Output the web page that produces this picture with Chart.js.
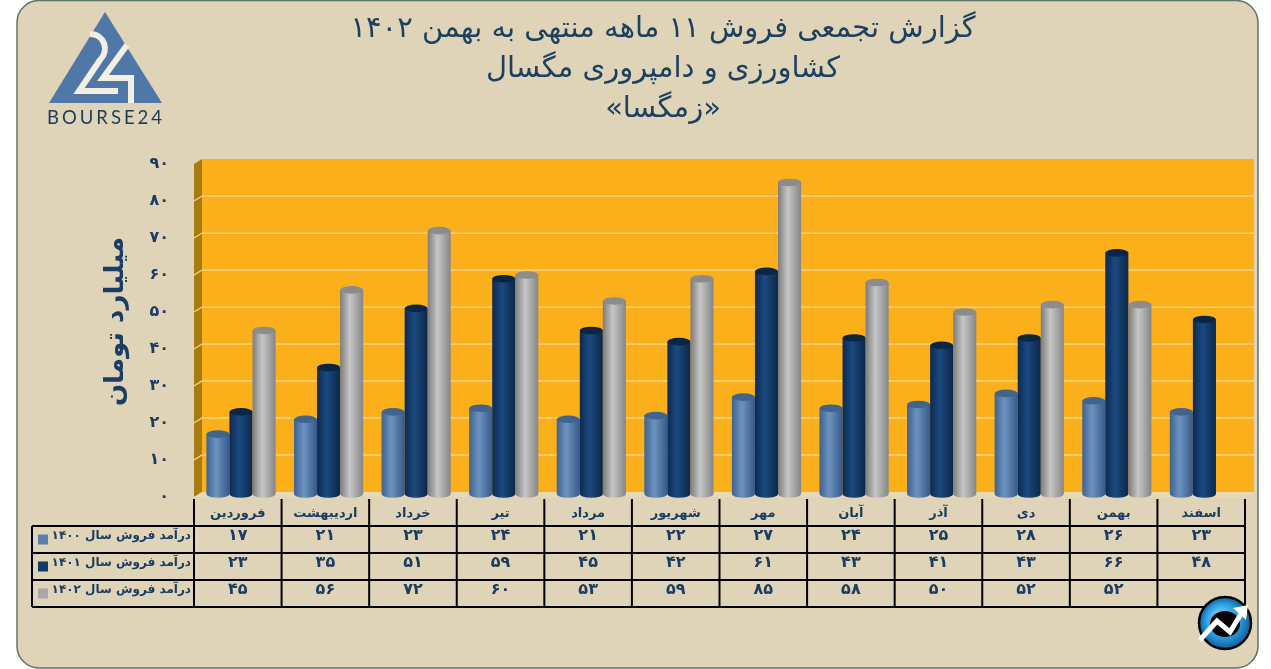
<!DOCTYPE html>
<html lang="fa">
<head>
<meta charset="utf-8">
<script src="https://cdn.jsdelivr.net/npm/chart.js@4"></script>
<style>
html,body{margin:0;padding:0;background:#fff;overflow:hidden}
#wrap{position:relative;width:1271px;height:669px}
</style>
</head>
<body>
<div id="wrap"><canvas id="c" width="1271" height="669"></canvas></div>
<script>
const months = ["فروردین","اردیبهشت","خرداد","تیر","مرداد","شهریور","مهر","آبان","آذر","دی","بهمن","اسفند"];
const sales1400 = [17,21,23,24,21,22,27,24,25,28,26,23];
const sales1401 = [23,35,51,59,45,42,61,43,41,43,66,48];
const sales1402 = [45,56,72,60,53,59,85,58,50,52,52,null];
const seriesNames = ["درآمد فروش سال ۱۴۰۰","درآمد فروش سال ۱۴۰۱","درآمد فروش سال ۱۴۰۲"];
const titleLines = ["گزارش تجمعی فروش ۱۱ ماهه منتهی به بهمن ۱۴۰۲","کشاورزی و دامپروری مگسال","«زمگسا»"];
const yAxisTitle = "\u00A0\u00A0میلیارد تومان";
const logoText = "BOURSE24";

const NAVY = "#1c3d63";
const BOLD = "'DejaVu Sans'";
const toFa = n => n === null || n === undefined ? "" : String(n).replace(/\d/g, d => "۰۱۲۳۴۵۶۷۸۹"[d]);

const looks = [
  {base:"#4f77a8", top:"#41648f", stops:["#3f628f","#6c93bf","#38598a"], swatch:"#5b7fa8"},
  {base:"#123a68", top:"#0b2544", stops:["#0c2a50","#1b4a80","#0b2748"], swatch:"#133a68"},
  {base:"#a6a6a6", top:"#8c8c8c", stops:["#7c7c7c","#c6c6c6","#868686"], swatch:"#a8a8a8"}
];

function roundRect(ctx,x,y,w,h,r){ctx.beginPath();ctx.roundRect(x,y,w,h,r);}

const scenePlugin = {
  id:"scene",
  beforeDraw(chart){
    const {ctx,chartArea:a,scales:{y}} = chart;
    const dx=8, dy=5;
    ctx.save();
    ctx.fillStyle="#ffffff";ctx.fillRect(0,0,chart.width,chart.height);
    roundRect(ctx,17,0.5,1241,667.5,22);
    ctx.fillStyle="#dfd3b8";ctx.fill();
    ctx.strokeStyle="#5d756c";ctx.lineWidth=1.5;ctx.stroke();
    const b=a.bottom,t=y.getPixelForValue(90);
    // back wall
    ctx.fillStyle="#fbb01b";
    ctx.fillRect(a.left+dx,t-dy,a.right+1-a.left,b-t);
    // side wall
    ctx.fillStyle="#a97a10";
    ctx.beginPath();ctx.moveTo(a.left,t);ctx.lineTo(a.left+dx,t-dy);ctx.lineTo(a.left+dx,b-dy);ctx.lineTo(a.left,b);ctx.closePath();ctx.fill();
    // floor
    ctx.fillStyle="#e6d9b6";
    ctx.beginPath();ctx.moveTo(a.left,b);ctx.lineTo(a.left+dx,b-dy);ctx.lineTo(a.right+dx+1,b-dy);ctx.lineTo(a.right,b);ctx.closePath();ctx.fill();
    // gridlines on the walls
    ctx.strokeStyle="#f7d688";ctx.lineWidth=1.3;
    y.ticks.forEach(tk=>{
      if(tk.value===0||tk.value===90) return;
      const p=y.getPixelForValue(tk.value);
      ctx.beginPath();ctx.moveTo(a.left,p);ctx.lineTo(a.left+dx,p-dy);ctx.lineTo(a.right+dx+1,p-dy);ctx.stroke();
    });
    ctx.restore();
  },
  beforeDatasetDraw(){return false;},
  afterDatasetsDraw(chart){
    const ctx=chart.ctx;
    const shift=3.2, ry=3.8;
    chart.data.datasets.forEach((ds,i)=>{
      const look=looks[i];
      chart.getDatasetMeta(i).data.forEach((el,j)=>{
        if(ds.data[j]===null) return;
        const w=el.width, l=el.x-w/2+shift, r=l+w, cx=(l+r)/2;
        const top=el.y, bot=el.base-3;
        const g=ctx.createLinearGradient(l,0,r,0);
        g.addColorStop(0,look.stops[0]);g.addColorStop(0.42,look.stops[1]);g.addColorStop(1,look.stops[2]);
        ctx.save();
        ctx.fillStyle=g;
        ctx.beginPath();
        ctx.moveTo(l,top);ctx.lineTo(l,bot);
        ctx.ellipse(cx,bot,w/2,ry,0,Math.PI,0,true);
        ctx.lineTo(r,top);
        ctx.closePath();ctx.fill();
        ctx.fillStyle=look.top;
        ctx.beginPath();ctx.ellipse(cx,top,w/2,ry,0,0,Math.PI*2);ctx.fill();
        ctx.restore();
      });
    });
  },
  afterDraw(chart){
    const {ctx,chartArea:a,scales:{x}} = chart;
    ctx.save();
    const step=x.getPixelForValue(1)-x.getPixelForValue(0);
    const rowTop=a.bottom+29, rowH=27, tableLeft=32;
    const edges=months.map((m,i)=>x.getPixelForValue(i)-step/2);
    edges.push(a.right);
    ctx.strokeStyle="#000";ctx.lineWidth=2;
    // row rules
    for(let r=0;r<=3;r++){
      const yy=rowTop+r*rowH;
      ctx.beginPath();ctx.moveTo(tableLeft,yy);ctx.lineTo(a.right,yy);ctx.stroke();
    }
    // column rules
    edges.forEach(e=>{ctx.beginPath();ctx.moveTo(e,a.bottom+2);ctx.lineTo(e,rowTop+3*rowH);ctx.stroke();});
    ctx.beginPath();ctx.moveTo(tableLeft,rowTop);ctx.lineTo(tableLeft,rowTop+3*rowH);ctx.stroke();
    // cells
    const rows=[sales1400,sales1401,sales1402];
    ctx.textBaseline="middle";ctx.textAlign="center";
    rows.forEach((vals,r)=>{
      const cy=rowTop+r*rowH+rowH/2-3;
      ctx.fillStyle=NAVY;ctx.font="bold 16px "+BOLD;
      vals.forEach((v,i)=>ctx.fillText(toFa(v),edges[i]+step/2,cy-1));
      ctx.font="bold 12px "+BOLD;ctx.textAlign="right";ctx.direction="rtl";
      ctx.fillText(seriesNames[r],a.left-3,cy-0.5);
      ctx.direction="ltr";ctx.textAlign="center";
      ctx.fillStyle=looks[r].swatch;
      ctx.fillRect(tableLeft+6,cy+3-5,10,10);
    });
    // logo
    ctx.fillStyle="#4f78a8";
    ctx.beginPath();ctx.moveTo(105,12);ctx.lineTo(162,103);ctx.lineTo(49,103);ctx.closePath();ctx.fill();
    ctx.strokeStyle="#f3efe3";ctx.lineWidth=6;ctx.lineJoin="miter";
    ctx.beginPath();ctx.moveTo(90,34);ctx.bezierCurveTo(104,34,110,50,100,60);ctx.lineTo(79,91);ctx.lineTo(118,91);ctx.stroke();
    ctx.beginPath();ctx.moveTo(127,45);ctx.lineTo(103,78);ctx.lineTo(131,78);ctx.lineTo(131,103);ctx.stroke();
    ctx.fillStyle="#1f3c57";ctx.font="18.5px 'Lato'";ctx.textAlign="center";ctx.textBaseline="middle";
    ctx.letterSpacing="3px";ctx.fillText(logoText,106,118);ctx.letterSpacing="0px";
    // corner badge
    const bx=1225,by=623,br=26;
    const rg=ctx.createRadialGradient(bx-6,by-6,3,bx,by,br);
    rg.addColorStop(0,"#7fd0f5");rg.addColorStop(0.6,"#2a9fe0");rg.addColorStop(1,"#0f5f9e");
    ctx.fillStyle=rg;ctx.strokeStyle="#000";ctx.lineWidth=2.5;
    ctx.beginPath();ctx.arc(bx,by,br,0,Math.PI*2);ctx.fill();ctx.stroke();
    ctx.fillStyle="#050505";
    ctx.beginPath();ctx.ellipse(bx,by+1,15,13,0,0,Math.PI*2);ctx.fill();
    ctx.strokeStyle="#fff";ctx.lineWidth=5;ctx.lineJoin="miter";
    ctx.beginPath();ctx.moveTo(bx-25,by+17);ctx.lineTo(bx-8,by-2);ctx.lineTo(bx+5,by+9);ctx.lineTo(bx+16,by-9);ctx.stroke();
    ctx.fillStyle="#fff";
    ctx.beginPath();ctx.moveTo(bx+23,by-18);ctx.lineTo(bx+8,by-15);ctx.lineTo(bx+21,by-3);ctx.closePath();ctx.fill();
    ctx.restore();
  }
};

new Chart(document.getElementById("c"),{
  type:"bar",
  data:{
    labels:months,
    datasets:[
      {label:seriesNames[0],data:sales1400,backgroundColor:looks[0].base},
      {label:seriesNames[1],data:sales1401,backgroundColor:looks[1].base},
      {label:seriesNames[2],data:sales1402,backgroundColor:looks[2].base}
    ]
  },
  plugins:[scenePlugin],
  options:{
    responsive:false,
    animation:false,
    layout:{padding:{left:81,right:26,top:0,bottom:0}},
    datasets:{bar:{categoryPercentage:0.79,barPercentage:1}},
    plugins:{
      legend:{display:false},
      tooltip:{enabled:false},
      title:{
        display:true,
        text:titleLines,
        color:"#1d4060",
        font:{family:"'DejaVu Sans'",size:29,weight:"normal",lineHeight:1.38},
        padding:{top:9,bottom:35}
      }
    },
    scales:{
      x:{
        grid:{display:false},
        border:{display:false},
        ticks:{color:NAVY,font:{family:BOLD,size:13,weight:"bold"},padding:1,maxRotation:0,autoSkip:false},
        afterFit(s){s.height=172;}
      },
      y:{
        min:0,max:90,
        grid:{display:false},
        border:{display:false},
        ticks:{stepSize:10,color:NAVY,padding:17,font:{family:BOLD,size:16,weight:"bold"},callback:v=>toFa(v)},
        title:{display:true,text:yAxisTitle,color:NAVY,font:{family:BOLD,size:26,weight:"bold",lineHeight:1.2},padding:{top:20,bottom:0}},
        afterFit(s){s.width=113;}
      }
    }
  }
});
</script>
</body>
</html>
